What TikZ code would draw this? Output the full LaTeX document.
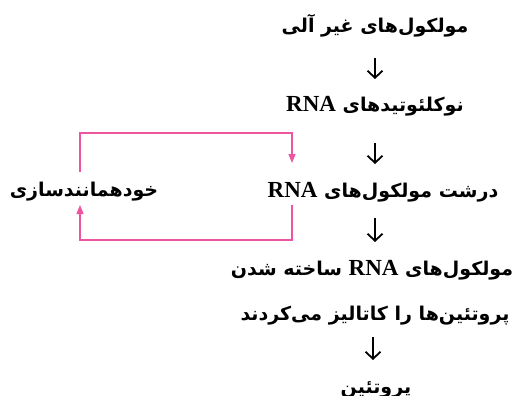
\documentclass[tikz,border=0pt]{standalone}
\usepackage{fontspec}
\setmainfont{Liberation Serif}
\newfontfamily\farsi[Script=Arabic]{DejaVu Sans}
\TeXXeTstate=1
\usetikzlibrary{arrows.meta}
\definecolor{loopink}{RGB}{238,85,160}
\newcommand{\fa}[1]{{\farsi\bfseries\beginR #1\endR}}
\newcommand{\rna}{\beginL{\rmfamily\bfseries\fontsize{23}{26}\selectfont RNA}\endL}

\begin{document}
\begin{tikzpicture}[x=1pt,y=-1pt,font=\fontsize{19}{22}\selectfont,
    every node/.style={inner sep=0pt,anchor=base},
    arr/.style={-{Straight Barb[length=7pt,width=15pt]},line width=1.8pt,shorten >=33pt},
    loopline/.style={loopink,line width=1.3pt,-{Triangle[length=9pt,width=7pt]}}]
  \useasboundingbox (0,0) rectangle (520,396);
  \node (inorg) at (375,33) {\fa{مولکول‌های غیر آلی}};
  \node (nucl) at (375,112) {\fa{نوکلئوتیدهای \rna}};
  \node (macro) at (383,197) {\fa{درشت مولکول‌های \rna}};
  \node (selfrep) at (84,196) {\fa{خودهمانندسازی}};
  \node (catal) at (372,275) {\fa{مولکول‌های \rna{} ساخته شدن}};
  \node (catalb) at (375,320) {\fa{پروتئین‌ها را کاتالیز می‌کردند}};
  \node (prot) at (376,393) {\fa{پروتئین}};
  % flow
  \draw[arr,shorten <=25pt] (inorg.base) -- (inorg.base |- nucl.base);
  \draw[arr,shorten <=31pt] (inorg.base |- nucl.base) -- (inorg.base |- macro.base);
  \draw[arr,shorten <=21pt] (inorg.base |- macro.base) -- (inorg.base |- catal.base);
  \draw[arr,shorten <=17pt] ([xshift=-2pt]inorg.base |- catalb.base) -- ([xshift=-2pt]inorg.base |- prot.base);
  % loop
  \coordinate (rnax) at (292,197);
  \coordinate (selfx) at (80,196);
  \coordinate (looptop) at (80,133);
  \coordinate (loopbot) at (80,240);
  \draw[loopline] ([yshift=24pt]selfx |- selfrep.base) -- (looptop) -| ([yshift=34pt]rnax |- macro.base);
  \draw[loopline] ([yshift=-8pt]rnax |- macro.base) |- (loopbot) -- ([yshift=-9pt]selfx |- selfrep.base);
\end{tikzpicture}
\end{document}
